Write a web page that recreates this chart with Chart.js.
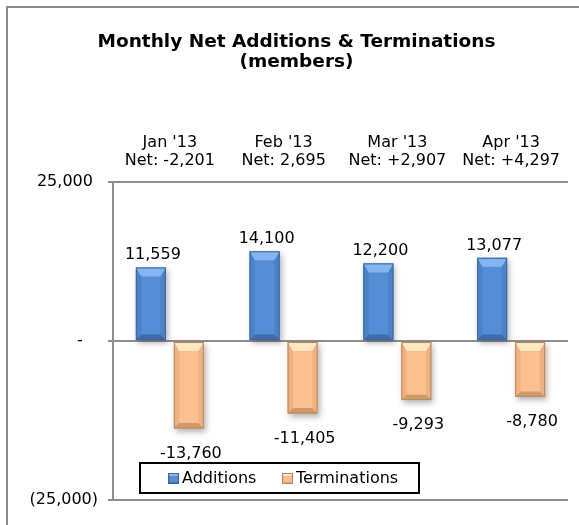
<!DOCTYPE html>
<html>
<head>
<meta charset="utf-8">
<script src="https://cdn.jsdelivr.net/npm/chart.js@4.4.1/dist/chart.umd.min.js"></script>
<style>
  html, body { margin: 0; padding: 0; background: #fff; }
  #wrap { width: 579px; height: 525px; }
</style>
</head>
<body>
<div id="wrap"><canvas id="chart" width="579" height="525"></canvas></div>
<script>
const months = ["Jan '13", "Feb '13", "Mar '13", "Apr '13"];
const net_labels = ["Net: -2,201", "Net: 2,695", "Net: +2,907", "Net: +4,297"];
const additions = [11559, 14100, 12200, 13077];
const terminations = [-13760, -11405, -9293, -8780];
const y_ticks = [-25000, 0, 25000];
const y_tick_text = ["(25,000)", "-", "25,000"];

const font_family = "'DejaVu Sans', Verdana, sans-serif";
Chart.defaults.font.family = font_family;
Chart.defaults.color = "#000";

// colours for the bevelled bars: fill, top, bottom, sides, edge
const bar_styles = [
    { fill: "#558ed5", top: "#82b6f0", bottom: "#3d6cad", side: "#4b82c9", edge: "#3a66a2" },
    { fill: "#fac090", top: "#ffe9c4", bottom: "#cf9a6a", side: "#efb17f", edge: "#b9885c" }
];

function bevel(ctx, l, t, r, b, st, size) {
    let bv = Math.min(size, (r - l) / 3, (b - t) / 2);
    let sv = bv * 0.6;
    ctx.save();
    ctx.fillStyle = st.side;
    ctx.beginPath();
    ctx.moveTo(l, t); ctx.lineTo(l + sv, t + bv); ctx.lineTo(l + sv, b - sv); ctx.lineTo(l, b);
    ctx.closePath(); ctx.fill();
    ctx.beginPath();
    ctx.moveTo(r, t); ctx.lineTo(r - sv, t + bv); ctx.lineTo(r - sv, b - sv); ctx.lineTo(r, b);
    ctx.closePath(); ctx.fill();
    ctx.fillStyle = st.top;
    ctx.beginPath();
    ctx.moveTo(l, t); ctx.lineTo(r, t); ctx.lineTo(r - sv, t + bv); ctx.lineTo(l + sv, t + bv);
    ctx.closePath(); ctx.fill();
    ctx.fillStyle = st.bottom;
    ctx.beginPath();
    ctx.moveTo(l, b); ctx.lineTo(r, b); ctx.lineTo(r - sv, b - sv); ctx.lineTo(l + sv, b - sv);
    ctx.closePath(); ctx.fill();
    ctx.strokeStyle = st.edge;
    ctx.lineWidth = 1;
    ctx.strokeRect(l + 0.5, t + 0.5, r - l - 1, b - t - 1);
    ctx.restore();
}

const frame_plugin = {
    id: "frame",
    beforeDraw(chart) {
        const ctx = chart.ctx;
        ctx.save();
        ctx.fillStyle = "#fff";
        ctx.fillRect(0, 0, chart.width, chart.height);
        ctx.strokeStyle = "#8a8a8a";
        ctx.lineWidth = 2;
        ctx.strokeRect(7, 7, 700, 700);
        ctx.restore();
    },
    beforeDatasetDraw(chart) {
        const ctx = chart.ctx;
        ctx.save();
        ctx.shadowColor = "rgba(0,0,0,0.3)";
        ctx.shadowBlur = 6;
        ctx.shadowOffsetX = 2;
        ctx.shadowOffsetY = 3;
    },
    afterDatasetDraw(chart, args) {
        const ctx = chart.ctx;
        ctx.restore();
        const st = bar_styles[args.index];
        args.meta.data.forEach(el => {
            const p = el.getProps(["x", "y", "base", "width"], true);
            bevel(ctx, p.x - p.width / 2, Math.min(p.y, p.base), p.x + p.width / 2, Math.max(p.y, p.base), st, 9);
        });
    },
    afterDatasetsDraw(chart) {
        const ctx = chart.ctx;
        ctx.save();
        ctx.font = "16px " + font_family;
        ctx.fillStyle = "#000";
        ctx.textAlign = "center";
        ctx.textBaseline = "alphabetic";
        chart.data.datasets.forEach((ds, i) => {
            chart.getDatasetMeta(i).data.forEach((el, j) => {
                const v = ds.data[j];
                const y = v >= 0 ? el.y - 8 : el.y + 29;
                ctx.fillText(v.toLocaleString("en-US"), el.x + 2, y);
            });
        });
        ctx.restore();
    },
    afterDraw(chart) {
        const ctx = chart.ctx;
        const area = chart.chartArea;
        const lx = area.left + 27, ly = area.bottom - 37;
        ctx.save();
        ctx.fillStyle = "#fff";
        ctx.fillRect(lx, ly, 279, 30);
        ctx.strokeStyle = "#000";
        ctx.lineWidth = 2;
        ctx.strokeRect(lx, ly, 279, 30);
        ctx.font = "16px " + font_family;
        ctx.textBaseline = "middle";
        ctx.textAlign = "left";
        let x = lx + 28;
        chart.data.datasets.forEach((ds, i) => {
            const st = bar_styles[i];
            ctx.fillStyle = st.fill;
            ctx.fillRect(x, ly + 10, 11, 11);
            bevel(ctx, x, ly + 10, x + 11, ly + 21, st, 3);
            ctx.fillStyle = "#000";
            ctx.fillText(ds.label, x + 14, ly + 16);
            x += 114;
        });
        ctx.restore();
    }
};

new Chart(document.getElementById("chart"), {
    type: "bar",
    data: {
        labels: months.map((m, i) => [m, net_labels[i]]),
        datasets: [
            {
                label: "Additions",
                data: additions,
                backgroundColor: bar_styles[0].fill,
                borderWidth: 0
            },
            {
                label: "Terminations",
                data: terminations,
                backgroundColor: bar_styles[1].fill,
                borderWidth: 0
            }
        ]
    },
    options: {
        responsive: false,
        animation: false,
        events: [],
        layout: { padding: { left: 25, right: 11, top: 0, bottom: 25 } },
        categoryPercentage: 0.668,
        barPercentage: 0.79,
        plugins: {
            legend: { display: false },
            tooltip: { enabled: false },
            title: {
                display: true,
                text: ["Monthly Net Additions & Terminations", "(members)"],
                color: "#000",
                font: { size: 18.5, weight: "bold", lineHeight: 1.08 },
                padding: { top: 32, bottom: 50 }
            }
        },
        scales: {
            x: {
                position: "top",
                grid: { display: false, drawTicks: false },
                border: { display: false },
                ticks: {
                    font: { size: 16, lineHeight: 1.125 },
                    padding: 12,
                    maxRotation: 0,
                    autoSkip: false
                }
            },
            y: {
                min: -25000,
                max: 25000,
                afterBuildTicks: scale => {
                    scale.ticks = y_ticks.map(v => ({ value: v }));
                },
                afterFit: scale => { scale.width = 88; },
                grid: { color: "#8f8f8f", lineWidth: 2, tickLength: 5 },
                border: { color: "#8f8f8f", width: 2 },
                ticks: {
                    font: { size: 16 },
                    padding: 10,
                    callback: value => {
                        const t = y_tick_text[y_ticks.indexOf(value)];
                        if (value > 0) return t + " ";
                        if (value === 0) return t + "   ";
                        return t;
                    }
                }
            }
        }
    },
    plugins: [frame_plugin]
});
</script>
</body>
</html>
